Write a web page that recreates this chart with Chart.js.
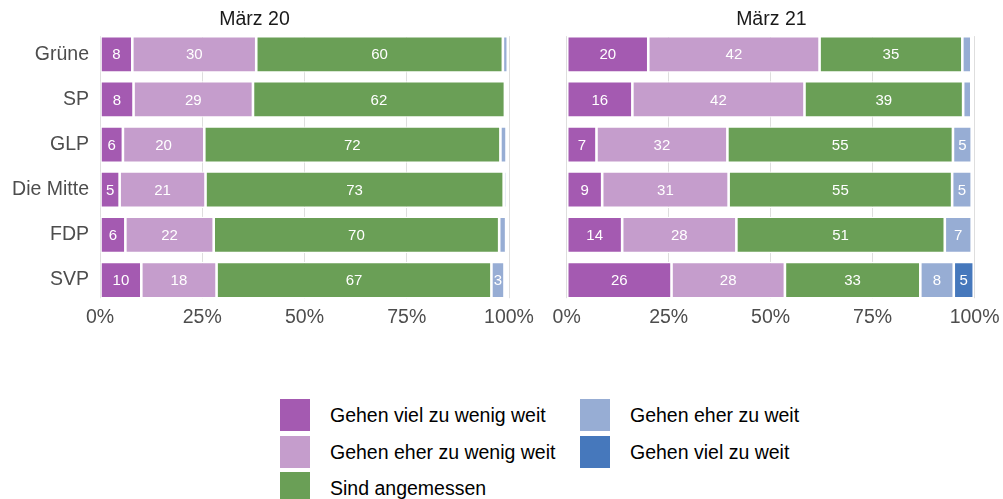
<!DOCTYPE html>
<html>
<head>
<meta charset="utf-8">
<script src="https://cdn.jsdelivr.net/npm/chart.js@4.4.1/dist/chart.umd.min.js"></script>
<style>
  html, body { margin: 0; padding: 0; background: #ffffff; }
  body { width: 1003px; height: 499px; position: relative; overflow: hidden;
         font-family: "Liberation Sans", Arial, sans-serif; }
  #wrapL { position: absolute; left: 0; top: 0; width: 545px; height: 333px; }
  #wrapR { position: absolute; left: 540px; top: 0; width: 463px; height: 333px; }
  #legend { position: absolute; left: 280px; top: 399px; display: grid;
            grid-auto-flow: column; grid-template-rows: repeat(3, 36.5px);
            grid-template-columns: 300px 300px; }
  .item { display: flex; align-items: flex-start; height: 36.5px; }
  .sw { width: 30px; height: 32px; flex: none; }
  .lab { margin-left: 20px; font-size: 19.5px; color: #000; line-height: 32px; white-space: nowrap; }
</style>
</head>
<body>
<div id="wrapL"><canvas id="left"></canvas></div>
<div id="wrapR"><canvas id="right"></canvas></div>
<div id="legend"></div>
<script>
// ---- data ----
const parties = ["Grüne", "SP", "GLP", "Die Mitte", "FDP", "SVP"];
const seriesNames = ["Gehen viel zu wenig weit", "Gehen eher zu wenig weit", "Sind angemessen", "Gehen eher zu weit", "Gehen viel zu weit"];
const seriesColors = ["#a45ab1", "#c59dcc", "#6a9f56", "#97add4", "#4678bc"];
const xTicks = [0, 25, 50, 75, 100];
const panelTitles = ["März 20", "März 21"];

// März 20 (percent per party, order as parties)
const m20_vielZuWenig  = [7.9, 8.2, 5.6, 4.8, 6.2, 10.1];
const m20_eherZuWenig  = [30.3, 29.2, 19.9, 21.0, 21.6, 18.4];
const m20_angemessen   = [60.3, 61.6, 72.4, 72.9, 69.8, 67.2];
const m20_eherZuWeit   = [1.2, 0.6, 1.5, 0.7, 1.7, 3.2];
const m20_vielZuWeit   = [0, 0, 0, 0, 0, 0.5];

// März 21
const m21_vielZuWenig  = [20.0, 16.1, 7.3, 8.7, 13.6, 25.7];
const m21_eherZuWenig  = [42.0, 42.2, 32.1, 31.0, 28.0, 27.8];
const m21_angemessen   = [35.0, 38.9, 55.3, 54.8, 51.1, 33.2];
const m21_eherZuWeit   = [2.2, 2.0, 4.6, 4.8, 6.6, 8.2];
const m21_vielZuWeit   = [0, 0.4, 0, 0, 0.5, 4.9];

const FONT = '"Liberation Sans", Arial, sans-serif';

const maskPlugin = {
  id: 'gridMask',
  beforeDatasetsDraw(chart) {
    const meta = chart.getDatasetMeta(0);
    if (!meta.data.length) return;
    const first = meta.data[0].getProps(['y', 'height'], true);
    const last = meta.data[meta.data.length - 1].getProps(['y', 'height'], true);
    const a = chart.chartArea, ctx = chart.ctx;
    ctx.save();
    ctx.fillStyle = '#ffffff';
    ctx.fillRect(a.left - 2, a.top - 1, a.right - a.left + 4, (first.y - first.height / 2) - a.top + 1);
    const lb = last.y + last.height / 2;
    ctx.fillRect(a.left - 2, lb, a.right - a.left + 4, a.bottom - lb + 1);
    ctx.restore();
  }
};

const labelPlugin = {
  id: 'barLabels',
  afterDatasetsDraw(chart) {
    const ctx = chart.ctx;
    ctx.save();
    ctx.font = '15px ' + FONT;
    ctx.fillStyle = '#ffffff';
    ctx.textAlign = 'center';
    ctx.textBaseline = 'middle';
    chart.data.datasets.forEach((ds, di) => {
      const meta = chart.getDatasetMeta(di);
      meta.data.forEach((el, i) => {
        const v = Math.round(ds.data[i]);
        if (v < 3) return;
        const p = el.getProps(['x', 'y', 'base'], true);
        ctx.fillText(String(v), (p.x + p.base) / 2, p.y + 1);
      });
    });
    ctx.restore();
  }
};

function makeChart(id, title, arrays, showY, padLeft, padRight) {
  const datasets = arrays.map((arr, k) => ({
    label: seriesNames[k],
    data: arr,
    backgroundColor: seriesColors[k],
    borderColor: '#ffffff',
    borderWidth: 1.3,
    borderSkipped: false,
    categoryPercentage: 1.0,
    barPercentage: 0.805
  }));
  return new Chart(document.getElementById(id), {
    type: 'bar',
    data: { labels: parties, datasets },
    options: {
      indexAxis: 'y',
      responsive: true,
      maintainAspectRatio: false,
      animation: false,
      layout: { padding: { left: padLeft, right: padRight, top: 0, bottom: 0 } },
      plugins: {
        legend: { display: false },
        tooltip: { enabled: false },
        title: {
          display: true, text: title, color: '#1a1a1a',
          font: { family: FONT, size: 19.5, weight: 'normal', lineHeight: 1.0 },
          padding: { top: 10.2, bottom: 2.0 }
        }
      },
      scales: {
        x: {
          stacked: true, min: 0, max: 100,
          afterBuildTicks: (s) => { s.ticks = xTicks.map(v => ({ value: v })); },
          ticks: { callback: (v) => v + '%', color: '#4d4d4d', padding: 3.5,
                   font: { family: FONT, size: 19.5 }, maxRotation: 0, autoSkip: false },
          grid: { color: '#dedede', lineWidth: 1, drawTicks: false },
          border: { display: false }
        },
        y: {
          stacked: true,
          display: showY,
          afterFit: (s) => { if (showY) s.width = 100; },
          ticks: { color: '#4d4d4d', padding: 11, font: { family: FONT, size: 19.5 } },
          grid: { display: false, drawTicks: false },
          border: { display: false }
        }
      }
    },
    plugins: [maskPlugin, labelPlugin]
  });
}

makeChart('left', panelTitles[0],
  [m20_vielZuWenig, m20_eherZuWenig, m20_angemessen, m20_eherZuWeit, m20_vielZuWeit], true, 0, 36);
makeChart('right', panelTitles[1],
  [m21_vielZuWenig, m21_eherZuWenig, m21_angemessen, m21_eherZuWeit, m21_vielZuWeit], false, 26.7, 27);

// HTML legend built from series arrays
const leg = document.getElementById('legend');
seriesNames.forEach((n, k) => {
  const it = document.createElement('div'); it.className = 'item';
  const sw = document.createElement('div'); sw.className = 'sw'; sw.style.background = seriesColors[k];
  const lb = document.createElement('div'); lb.className = 'lab'; lb.textContent = n;
  it.appendChild(sw); it.appendChild(lb); leg.appendChild(it);
});
</script>
</body>
</html>
